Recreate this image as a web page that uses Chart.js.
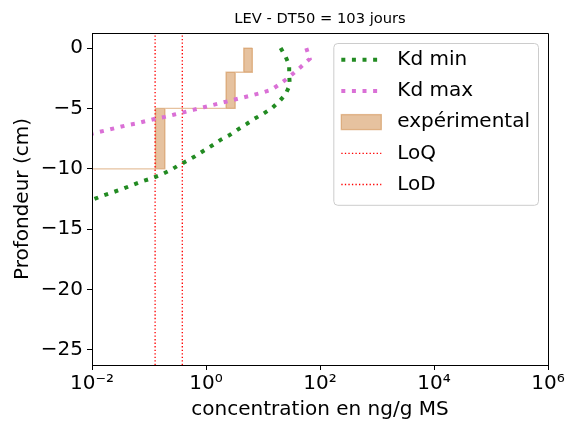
<!DOCTYPE html>
<html lang="fr">
<head>
<meta charset="utf-8">
<title>LEV - DT50 = 103 jours</title>
<script src="https://cdn.jsdelivr.net/npm/chart.js@4.4.0/dist/chart.umd.min.js"></script>
<style>
  html, body { margin: 0; padding: 0; background: #fff; }
</style>
</head>
<body>
<canvas id="grafico" width="576" height="426"></canvas>
<script>
// Profil simulé avec Kd min : profondeur (cm) et concentration (ng/g MS)
const profKdMin = [0, -0.75, -1.4, -2.2, -3.05, -3.8, -4.4, -5.0, -5.45, -5.85, -6.3, -6.75, -7.2, -7.6, -8.05,
  -8.5, -8.95, -9.35, -9.75, -10.15, -10.5, -10.8, -11.05, -11.35, -11.65, -11.95, -12.2, -12.5, -12.8, -13.1];
const concKdMin = [20.4, 25.1, 28.8, 28.8, 29.5, 25.1, 19.5, 14.1, 10, 7.1, 5.1, 3.6, 2.6, 1.8, 1.3,
  0.91, 0.65, 0.46, 0.32, 0.23, 0.16, 0.11, 0.074, 0.051, 0.035, 0.023, 0.016, 0.011, 0.0075, 0.005];

// Profil simulé avec Kd max
const profKdMax = [0, -0.9, -1.45, -2.0, -2.5, -3.0, -3.45, -3.7, -3.9, -4.1, -4.3, -4.5, -4.7, -4.9,
  -5.1, -5.3, -5.5, -5.7, -5.85, -6.05, -6.25, -6.4, -6.6, -6.8, -7.0, -7.2];
const concKdMax = [57.5, 66, 49, 36, 27, 19.5, 14, 9.5, 6.5, 4.4, 2.95, 2.0, 1.35, 0.91,
  0.62, 0.42, 0.28, 0.19, 0.13, 0.087, 0.059, 0.04, 0.027, 0.018, 0.012, 0.008];

// Mesures expérimentales par couche : haut, bas, concentration min et max
const expHaut = [0, -2, -5];
const expBas = [-2, -5, -10];
const expMin = [4.6, 2.25, 0.13];
const expMax = [6.5, 3.25, 0.19];
const expSousCouche = 0.001; // valeur sous la dernière couche (hors du graphique)

// Limites analytiques
const valLoQ = 0.384;
const valLoD = 0.128;

// Graduations
const xTicks = [1e-2, 1e0, 1e2, 1e4, 1e6];
const xTickLabels = ['10⁻²', '10⁰', '10²', '10⁴', '10⁶'];
const yTicks = [0, -5, -10, -15, -20, -25];
const yTickLabels = ['0', '−5', '−10', '−15', '−20', '−25'];

const police = "'DejaVu Sans', sans-serif";
Chart.defaults.font.family = police;
Chart.defaults.color = '#000';

// Associe profondeurs et concentrations en points {x, y}
function toPoints(profs, concs) {
  return profs.map((p, i) => ({ x: concs[i], y: p }));
}

// Contour en escalier des mesures (côté max en descendant, côté min en remontant)
function buildExpPolygon() {
  const pts = [];
  for (let i = 0; i < expHaut.length; i++) {
    pts.push({ x: expMax[i], y: expHaut[i] });
    pts.push({ x: expMax[i], y: expBas[i] });
  }
  pts.push({ x: expSousCouche, y: expBas[expBas.length - 1] });
  for (let i = expHaut.length - 1; i >= 0; i--) {
    pts.push({ x: expMin[i], y: expBas[i] });
    pts.push({ x: expMin[i], y: expHaut[i] });
  }
  pts.push(pts[0]);
  return pts;
}

// Droite verticale sur toute la hauteur
function verticale(val) {
  return [{ x: val, y: -40 }, { x: val, y: 10 }];
}

// Cadre complet (haut et droite) comme les axes matplotlib
const cadreAxes = {
  id: 'cadreAxes',
  afterDatasetsDraw(chart) {
    const { ctx, chartArea: a } = chart;
    const top = Math.round(a.top - 0.5) + 0.5;
    const right = Math.round(a.right - 0.5) + 0.5;
    ctx.save();
    ctx.strokeStyle = '#000';
    ctx.lineWidth = 1;
    ctx.beginPath();
    ctx.moveTo(a.left, top);
    ctx.lineTo(right, top);
    ctx.lineTo(right, a.bottom);
    ctx.stroke();
    ctx.restore();
  }
};

// Légende encadrée dans le coin haut droit du graphique
const legendeCadre = {
  id: 'legendeCadre',
  afterDraw(chart) {
    const { ctx, chartArea: a } = chart;
    const taille = 20, marge = 8, poignee = 40, ecart = 16, pas = 31.2;
    const ds = chart.data.datasets;
    ctx.save();
    ctx.font = taille + 'px ' + police;
    const largeurTexte = Math.max(...ds.map(d => ctx.measureText(d.label).width));
    const w = marge * 2 + poignee + ecart + largeurTexte;
    const h = marge * 2 + pas * (ds.length - 1) + 21;
    const right = a.right - 10;
    const top = a.top + 10;
    const left = right - w;

    ctx.beginPath();
    ctx.roundRect(left + 0.5, top + 0.5, w, h, 4);
    ctx.fillStyle = 'rgba(255,255,255,0.8)';
    ctx.fill();
    ctx.strokeStyle = 'rgb(204,204,204)';
    ctx.lineWidth = 1;
    ctx.stroke();

    const x0 = left + marge;
    ds.forEach((d, i) => {
      const y = top + 16.7 + i * pas;
      ctx.save();
      if (d.fill === 'shape') {
        ctx.fillStyle = d.backgroundColor;
        ctx.fillRect(x0, y - 7.5, poignee, 15);
        ctx.strokeStyle = d.borderColor;
        ctx.lineWidth = d.borderWidth;
        ctx.strokeRect(x0, y - 7.5, poignee, 15);
      } else {
        ctx.strokeStyle = d.borderColor;
        ctx.lineWidth = d.borderWidth;
        ctx.setLineDash(d.borderDash || []);
        ctx.beginPath();
        ctx.moveTo(x0, y);
        ctx.lineTo(x0 + poignee, y);
        ctx.stroke();
      }
      ctx.restore();
      ctx.fillStyle = '#000';
      ctx.textBaseline = 'middle';
      ctx.fillText(d.label, x0 + poignee + ecart, y);
    });
    ctx.restore();
  }
};

const ctx = document.getElementById('grafico');

new Chart(ctx, {
  type: 'scatter',
  data: {
    datasets: [
      {
        label: 'Kd min',
        data: toPoints(profKdMin, concKdMin),
        showLine: true,
        borderColor: 'rgb(34,139,34)',
        borderWidth: 4,
        borderDash: [4, 6.6],
        pointRadius: 0,
        clip: 0,
        order: 0
      },
      {
        label: 'Kd max',
        data: toPoints(profKdMax, concKdMax),
        showLine: true,
        borderColor: 'rgb(218,112,214)',
        borderWidth: 4,
        borderDash: [4, 6.6],
        pointRadius: 0,
        clip: 0,
        order: 0
      },
      {
        label: 'expérimental',
        data: buildExpPolygon(),
        showLine: true,
        fill: 'shape',
        backgroundColor: 'rgba(205,133,63,0.5)',
        borderColor: 'rgba(205,133,63,0.5)',
        borderWidth: 1.33,
        pointRadius: 0,
        clip: 0,
        order: 1
      },
      {
        label: 'LoQ',
        data: verticale(valLoQ),
        showLine: true,
        borderColor: 'rgb(255,0,0)',
        borderWidth: 1.33,
        borderDash: [1.33, 2.2],
        pointRadius: 0,
        clip: 0,
        order: 0
      },
      {
        label: 'LoD',
        data: verticale(valLoD),
        showLine: true,
        borderColor: 'rgb(255,0,0)',
        borderWidth: 1.33,
        borderDash: [1.33, 2.2],
        pointRadius: 0,
        clip: 0,
        order: 0
      }
    ]
  },
  options: {
    responsive: false,
    animation: false,
    layout: { padding: { left: 0, right: 28, top: 0, bottom: 0 } },
    plugins: {
      legend: { display: false },
      tooltip: { enabled: false },
      title: {
        display: true,
        text: 'LEV - DT50 = 103 jours',
        fullSize: false,
        color: '#000',
        font: { size: 14.7, weight: 'normal' },
        padding: { top: 10.5, bottom: 4.86 }
      }
    },
    scales: {
      x: {
        type: 'logarithmic',
        min: 1e-2,
        max: 1e6,
        afterBuildTicks: scale => { scale.ticks = xTicks.map(v => ({ value: v })); },
        afterFit: scale => { scale.height = 61; },
        ticks: {
          autoSkip: false,
          maxRotation: 0,
          padding: 2,
          font: { size: 20 },
          color: '#000',
          callback: (value, index) => xTickLabels[index]
        },
        grid: { display: true, drawOnChartArea: false, drawTicks: true, tickLength: 5, color: '#000', lineWidth: 1 },
        border: { display: true, color: '#000', width: 1, z: 1 },
        title: {
          display: true,
          text: 'concentration en ng/g MS',
          font: { size: 20 },
          color: '#000',
          padding: { top: 0, bottom: 4 }
        }
      },
      y: {
        type: 'linear',
        min: -26.25,
        max: 1.25,
        afterBuildTicks: scale => { scale.ticks = yTicks.map(v => ({ value: v })); },
        afterFit: scale => { scale.width = 92; },
        ticks: {
          padding: 4,
          font: { size: 20 },
          color: '#000',
          callback: (value, index) => yTickLabels[index]
        },
        grid: { display: true, drawOnChartArea: false, drawTicks: true, tickLength: 5, color: '#000', lineWidth: 1 },
        border: { display: true, color: '#000', width: 1, z: 1 },
        title: {
          display: true,
          text: 'Profondeur (cm)',
          font: { size: 20 },
          color: '#000',
          padding: { top: 11, bottom: 0 }
        }
      }
    }
  },
  plugins: [cadreAxes, legendeCadre]
});
</script>
</body>
</html>
